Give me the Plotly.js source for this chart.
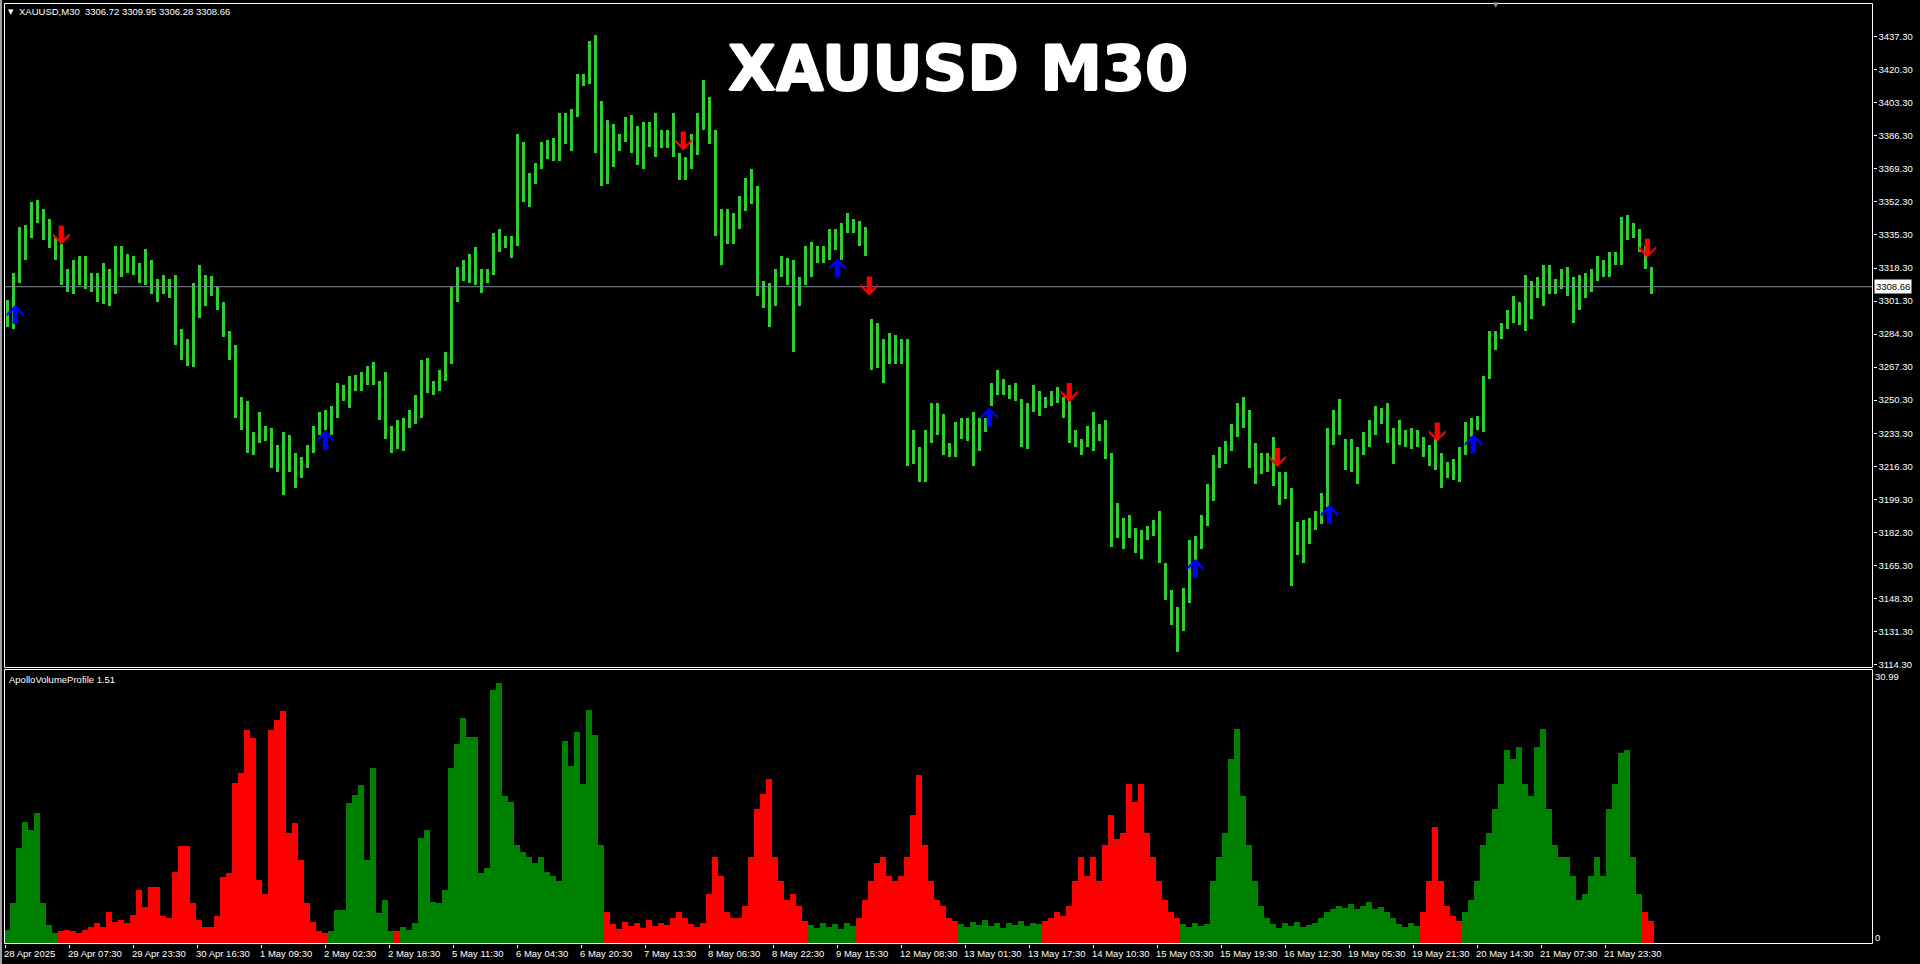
<!DOCTYPE html>
<html><head><meta charset="utf-8">
<script src="https://cdn.plot.ly/plotly-3.0.1.min.js"></script>
<style>html,body{margin:0;padding:0;background:#000;overflow:hidden}#chart{width:1920px;height:964px}</style>
</head><body><div id="chart"></div>
<script>
// ---------- DATA (each entry = 3 consecutive M30 bars) ----------
const priceHigh = [
3301.9,3315.8,3339.2,3340.3,3352.0,3353.1,3348.8,3343.5,3333.9,3330.7,
3317.9,3322.2,3324.3,3324.3,3315.8,3315.8,3321.1,3317.9,3329.7,3329.7,
3325.4,3324.3,3321.1,3328.2,3322.2,3312.6,3314.7,3312.6,3314.7,3287.0,
3281.7,3310.5,3320.1,3314.7,3314.1,3308.3,3300.9,3285.9,3278.5,3251.8,
3249.7,3233.7,3244.3,3236.9,3235.8,3227.3,3233.7,3232.6,3223.0,3220.9,
3227.3,3236.9,3244.3,3245.4,3247.5,3259.3,3258.2,3262.5,3263.5,3264.6,
3267.8,3269.9,3260.3,3264.6,3236.9,3240.1,3241.1,3245.4,3252.9,3271.0,
3272.1,3260.3,3265.7,3275.3,3308.3,3319.0,3322.2,3325.4,3329.0,3317.9,
3317.9,3336.1,3338.2,3335.0,3335.0,3387.2,3383.0,3367.0,3372.3,3383.0,
3384.0,3385.1,3397.9,3397.9,3400.0,3418.2,3418.2,3435.2,3438.4,3404.3,
3394.7,3392.6,3387.2,3395.8,3396.8,3391.5,3393.6,3393.6,3397.9,3389.4,
3389.4,3397.9,3377.6,3375.5,3387.2,3397.9,3415.0,3406.4,3389.4,3348.8,
3348.8,3346.7,3355.2,3364.8,3369.1,3360.6,3311.5,3310.5,3317.9,3324.3,
3323.3,3322.2,3313.7,3329.7,3331.8,3329.7,3329.7,3338.2,3338.2,3341.4,
3346.7,3343.5,3342.5,3339.2,3292.3,3290.2,3281.7,3284.9,3283.8,3281.7,
3281.7,3234.7,3226.2,3234.7,3248.6,3248.6,3243.3,3228.3,3239.0,3241.1,
3241.1,3244.3,3241.1,3241.1,3259.3,3265.7,3261.4,3258.2,3259.3,3250.7,
3248.6,3258.2,3255.0,3251.8,3255.0,3257.1,3251.8,3249.7,3234.7,3230.5,
3236.9,3244.3,3237.9,3240.1,3223.0,3197.4,3189.9,3191.0,3184.6,3183.5,
3185.7,3188.9,3193.1,3166.5,3152.6,3144.1,3153.7,3178.2,3180.3,3191.0,
3207.0,3221.9,3226.2,3229.4,3237.9,3248.6,3251.8,3245.4,3228.3,3223.0,
3223.0,3231.5,3213.4,3213.4,3204.9,3187.8,3188.9,3189.9,3193.1,3202.7,
3235.8,3245.4,3250.7,3230.5,3230.5,3226.2,3233.7,3240.1,3247.5,3246.5,
3248.6,3235.8,3240.1,3234.7,3235.8,3234.7,3231.5,3227.3,3230.5,3223.0,
3218.7,3219.8,3226.2,3239.0,3241.1,3242.2,3262.5,3285.9,3285.9,3290.2,
3296.6,3304.1,3300.9,3314.7,3311.5,3313.7,3320.1,3320.1,3312.6,3317.9,
3319.0,3313.7,3314.7,3315.8,3317.9,3324.3,3322.2,3326.5,3326.5,3344.6,
3345.6,3341.4,3338.2,3329.7,3319.0];
const priceLow = [
3288.1,3287.0,3310.5,3322.2,3333.9,3341.4,3332.9,3328.6,3322.2,3309.4,
3306.2,3305.1,3309.4,3307.3,3306.2,3300.9,3299.8,3298.7,3305.1,3313.7,
3315.8,3314.7,3310.5,3309.4,3305.1,3300.9,3305.1,3303.0,3278.5,3271.0,
3267.8,3267.2,3292.8,3298.7,3304.1,3296.6,3282.7,3271.0,3241.1,3234.7,
3223.0,3221.9,3228.3,3229.4,3215.5,3213.4,3201.7,3213.4,3205.3,3210.2,
3215.5,3223.0,3232.6,3234.7,3232.6,3241.1,3249.7,3246.5,3255.0,3255.0,
3258.2,3258.2,3240.1,3230.5,3223.0,3225.1,3224.1,3235.8,3237.9,3241.1,
3253.9,3252.9,3255.0,3260.3,3268.9,3300.9,3311.5,3310.5,3309.4,3305.5,
3310.5,3314.7,3326.5,3328.6,3323.3,3329.7,3352.0,3349.9,3361.6,3369.1,
3374.4,3373.4,3373.4,3381.9,3378.7,3395.8,3411.8,3412.8,3377.6,3360.6,
3361.6,3370.2,3378.7,3383.0,3377.6,3371.2,3369.1,3380.8,3375.5,3379.8,
3379.8,3375.5,3363.8,3363.8,3369.1,3376.6,3389.4,3381.9,3335.0,3320.1,
3330.7,3330.7,3338.2,3347.8,3351.0,3304.1,3297.7,3288.1,3298.7,3313.7,
3309.4,3275.3,3298.7,3309.4,3313.7,3321.1,3321.1,3322.2,3327.5,3322.2,
3336.1,3336.1,3329.7,3324.3,3265.7,3266.7,3259.3,3268.9,3268.9,3268.9,
3216.6,3217.7,3208.1,3208.1,3228.3,3232.6,3221.9,3220.9,3220.9,3230.5,
3229.4,3216.6,3224.1,3233.7,3247.5,3252.9,3252.9,3250.7,3249.7,3226.2,
3225.1,3244.3,3242.2,3246.5,3247.5,3248.6,3241.1,3228.3,3226.2,3221.9,
3226.2,3224.1,3229.4,3219.8,3175.0,3179.3,3173.9,3179.3,3171.8,3168.6,
3178.2,3180.3,3166.5,3147.3,3134.5,3120.6,3131.3,3146.2,3162.2,3173.9,
3185.7,3198.5,3215.5,3217.7,3224.1,3231.5,3235.8,3215.5,3207.0,3212.3,
3213.4,3205.9,3196.3,3199.5,3154.7,3170.7,3166.5,3176.1,3183.5,3186.7,
3195.3,3227.3,3232.6,3214.5,3213.4,3207.0,3221.9,3226.2,3232.6,3237.9,
3228.3,3217.7,3227.3,3226.2,3225.1,3226.2,3220.9,3216.6,3214.5,3204.9,
3210.2,3209.1,3208.1,3221.9,3231.5,3234.7,3233.7,3261.4,3276.3,3281.7,
3287.0,3290.2,3289.1,3285.9,3292.3,3303.0,3298.7,3305.1,3305.1,3307.3,
3304.1,3290.2,3296.6,3303.0,3306.2,3311.5,3313.7,3313.7,3320.1,3320.1,
3332.9,3333.9,3326.5,3317.9,3305.1];
const volume = [
1.5,4.5,10.8,13.8,12.9,14.8,4.5,2.0,1.1,1.3,
1.4,1.3,1.1,1.4,1.8,2.2,1.8,3.5,2.4,2.6,
2.2,3.2,6.0,4.1,6.4,6.4,3.0,2.8,8.1,11.0,
11.0,4.5,2.6,1.8,1.8,3.0,7.5,7.9,18.2,19.3,
24.3,23.3,7.1,5.6,24.3,25.4,26.4,12.5,13.6,9.4,
4.5,2.4,1.3,1.1,1.3,3.7,3.7,15.9,16.9,18.0,
9.4,19.9,3.4,4.9,1.3,1.3,1.8,1.4,2.2,11.9,
12.9,4.7,4.5,6.0,19.9,22.7,25.6,23.5,23.5,7.9,
8.5,28.8,29.6,16.7,16.0,11.1,10.4,9.8,9.1,9.8,
8.1,7.6,7.0,23.0,20.2,24.0,18.1,26.5,23.7,11.1,
3.5,2.1,1.6,2.4,1.9,2.2,1.7,2.6,1.9,2.3,
2.0,2.8,3.5,2.8,2.1,1.8,2.2,5.6,9.8,7.6,
3.5,2.8,2.8,4.2,9.8,15.3,17.0,18.7,9.8,7.0,
4.9,5.6,4.2,2.5,2.0,1.7,2.3,1.8,2.1,1.6,
2.2,1.9,2.8,4.9,7.0,9.1,9.8,7.6,7.0,7.6,
9.8,14.6,19.1,11.1,7.0,4.9,4.2,2.8,2.5,2.1,
1.8,2.4,2.0,2.6,1.9,2.2,1.7,2.3,2.0,2.5,
1.9,2.2,2.1,2.5,2.8,3.5,3.1,4.2,7.0,9.8,
7.6,9.8,7.0,11.1,14.6,11.8,12.5,18.1,16.0,18.1,
12.5,9.8,7.0,4.9,3.5,2.8,2.1,1.8,2.3,1.9,
2.1,7.0,9.8,12.5,20.9,24.4,16.7,11.1,7.0,4.2,
2.8,2.1,1.7,2.2,1.9,2.4,1.8,2.0,2.2,2.8,
3.5,3.9,4.2,4.0,4.4,3.8,4.2,4.6,3.9,4.1,
3.5,2.8,2.1,1.8,2.2,1.9,3.5,7.0,13.2,7.0,
4.2,3.1,2.5,3.5,4.9,7.0,11.1,12.5,15.3,18.1,
22.0,20.9,22.3,18.1,16.7,22.3,24.4,15.3,11.1,9.8,
9.8,7.6,4.9,5.6,7.6,9.8,7.6,15.3,18.1,21.6,
22.0,9.8,5.6,3.5,2.5];
// colour runs of the volume histogram: first group index of each run and its direction
const volRunStart = [0, 9, 54, 65, 66, 100, 134, 142, 159, 173, 196, 236, 243, 273];
const volRunDir   = ['up','down','up','down','up','down','up','down','up','down','up','down','up','down'];
// signal arrows: M30 bar index and arrow-tip price
const upSignalBar     = [5, 160, 416, 492, 595, 662, 734];
const upSignalPrice   = [3299.3, 3234.7, 3323.2, 3246.5, 3168.6, 3196.4, 3232.6];
const downSignalBar   = [28, 339, 432, 532, 636, 716, 821];
const downSignalPrice = [3330.3, 3378.7, 3304.1, 3249.3, 3215.9, 3229.0, 3323.6];
// axis labels
const priceTicks = [3437.30,3420.30,3403.30,3386.30,3369.30,3352.30,3335.30,3318.30,3301.30,3284.30,
                    3267.30,3250.30,3233.30,3216.30,3199.30,3182.30,3165.30,3148.30,3131.30,3114.30];
const dateLabels = ["28 Apr 2025","29 Apr 07:30","29 Apr 23:30","30 Apr 16:30","1 May 09:30","2 May 02:30",
  "2 May 18:30","5 May 11:30","6 May 04:30","6 May 20:30","7 May 13:30","8 May 06:30","8 May 22:30",
  "9 May 15:30","12 May 08:30","13 May 01:30","13 May 17:30","14 May 10:30","15 May 03:30","15 May 19:30",
  "16 May 12:30","19 May 05:30","19 May 21:30","20 May 14:30","21 May 07:30","21 May 23:30"];
const dateLabelBar = [0,32,64,96,128,160,192,224,256,288,320,352,384,416,448,480,512,544,576,608,640,672,704,736,768,800];
const lastPrice = 3308.66;
const headerOHLC = [3306.72, 3309.95, 3306.28, 3308.66];
const volMax = 30.99;

// ---------- BUILD ----------
const W = 1920, H = 964;
const px = v => v / W, py = v => 1 - v / H;
const GROUP = 3;
const gx = priceHigh.map((_, g) => g * GROUP + (GROUP - 1) / 2);
const range = priceHigh.map((h, i) => h - priceLow[i]);

const volColor = volume.map((_, g) => {
  let k = 0;
  for (let r = 0; r < volRunStart.length; r++) if (g >= volRunStart[r]) k = r;
  return volRunDir[k] === 'up' ? '#008000' : '#ff0000';
});

const traces = [
  {type:'bar', x:gx, y:range, base:priceLow, width:1.5, xaxis:'x', yaxis:'y',
   marker:{color:'#32cd32', line:{width:0}}, hoverinfo:'skip'},
  {type:'bar', x:gx, y:volume, width:GROUP, xaxis:'x2', yaxis:'y2',
   marker:{color:volColor, line:{width:0}}, hoverinfo:'skip'}
];

const xDom = [px(4.5), px(1872.5)];
const xRange = [-0.4, 933.6];
const small = {family:'Liberation Sans, Arial, sans-serif', size:9.5, color:'#ffffff'};

const upPath = 'M0,0 L8.5,-8.5 L8.5,-11.5 L2.6,-5.8 L2.6,-19 L-2.6,-19 L-2.6,-5.8 L-8.5,-11.5 L-8.5,-8.5 Z';
const downPath = 'M0,0 L8.5,8.5 L8.5,11.5 L2.6,5.8 L2.6,19 L-2.6,19 L-2.6,5.8 L-8.5,11.5 L-8.5,8.5 Z';

const shapes = [
  {type:'rect', xref:'paper', yref:'paper', x0:0, x1:px(2), y0:0, y1:1, fillcolor:'#a0a0a0', line:{width:0}},
  {type:'line', xref:'paper', yref:'y', x0:xDom[0], x1:xDom[1], y0:lastPrice, y1:lastPrice, line:{color:'#7f8b99', width:1}},
  {type:'rect', xref:'paper', yref:'paper', x0:px(4.5), x1:px(1872.5), y0:py(667.5), y1:py(3.5), line:{color:'#ffffff', width:1}},
  {type:'rect', xref:'paper', yref:'paper', x0:px(4.5), x1:px(1872.5), y0:py(943.5), y1:py(669.5), line:{color:'#ffffff', width:1}}
];
upSignalBar.forEach((b, i) => shapes.push({type:'path', xref:'x', yref:'y', xsizemode:'pixel', ysizemode:'pixel',
  xanchor:b, yanchor:upSignalPrice[i], path:upPath, fillcolor:'#0000ff', line:{width:0}}));
downSignalBar.forEach((b, i) => shapes.push({type:'path', xref:'x', yref:'y', xsizemode:'pixel', ysizemode:'pixel',
  xanchor:b, yanchor:downSignalPrice[i], path:downPath, fillcolor:'#ff0000', line:{width:0}}));

const annotations = [
  {xref:'paper', yref:'paper', x:px(958), y:py(69), xanchor:'center', yanchor:'middle', showarrow:false,
   text:'XAUUSD M30', font:{family:'DejaVu Sans, sans-serif', size:62, color:'#ffffff', weight:700,
   shadow:'1px 0 0 #ffffff, -1px 0 0 #ffffff, 0 1px 0 #ffffff, 0 -1px 0 #ffffff'}},
  {xref:'paper', yref:'paper', x:px(17), y:py(12), xanchor:'left', yanchor:'middle', showarrow:false,
   text:'XAUUSD,M30\u00a0\u00a0' + headerOHLC.map(v => v.toFixed(2)).join(' '), font:small},
  {xref:'paper', yref:'paper', x:px(6), y:py(12), xanchor:'left', yanchor:'middle', showarrow:false,
   text:'\u25BC', font:{family:'DejaVu Sans', size:7, color:'#ffffff'}},
  {xref:'paper', yref:'paper', x:px(1491), y:py(5), xanchor:'left', yanchor:'middle', showarrow:false,
   text:'\u25BC', font:{family:'DejaVu Sans', size:7, color:'#9a9a9a'}},
  {xref:'paper', yref:'paper', x:px(7), y:py(679), xanchor:'left', yanchor:'middle', showarrow:false,
   text:'ApolloVolumeProfile 1.51', font:small},
  {xref:'paper', yref:'y', x:px(1874), y:lastPrice, xanchor:'left', yanchor:'middle', showarrow:false,
   text:lastPrice.toFixed(2), bgcolor:'#ffffff', borderpad:1, font:{family:small.family, size:9.5, color:'#000000'}},
  {xref:'paper', yref:'paper', x:px(1873), y:py(676), xanchor:'left', yanchor:'middle', showarrow:false,
   text:volMax.toFixed(2), font:small},
  {xref:'paper', yref:'paper', x:px(1873), y:py(937), xanchor:'left', yanchor:'middle', showarrow:false,
   text:'0', font:small}
];
dateLabels.forEach((t, i) => annotations.push({xref:'x2', yref:'paper', x:dateLabelBar[i], y:py(953),
  xanchor:'left', yanchor:'middle', xshift:-3, showarrow:false, text:t, font:small}));

const layout = {
  width:W, height:H, margin:{l:0, r:0, t:0, b:0}, paper_bgcolor:'#000000', plot_bgcolor:'#000000',
  showlegend:false, bargap:0,
  xaxis:{domain:xDom, range:xRange, anchor:'y', showgrid:false, zeroline:false, showticklabels:false, ticks:'', showline:false},
  xaxis2:{domain:xDom, range:xRange, anchor:'y2', showgrid:false, zeroline:false, showline:false,
          ticks:'outside', ticklen:3, tickwidth:1, tickcolor:'#ffffff', tickvals:dateLabelBar, showticklabels:false},
  yaxis:{domain:[py(667.5), py(3.5)], range:[3112.76, 3454.38], anchor:'x', side:'right', showgrid:false, zeroline:false,
         showline:false, ticks:'outside', ticklen:3, tickwidth:1, tickcolor:'#ffffff',
         tickvals:priceTicks, ticktext:priceTicks.map(v => v.toFixed(2)), tickfont:small},
  yaxis2:{domain:[py(943.5), py(669.5)], range:[-0.09, 31.16], anchor:'x2', showgrid:false, zeroline:false,
          showline:false, showticklabels:false, ticks:''},
  shapes:shapes, annotations:annotations
};
Plotly.newPlot('chart', traces, layout, {staticPlot:true, displayModeBar:false});
</script></body></html>
